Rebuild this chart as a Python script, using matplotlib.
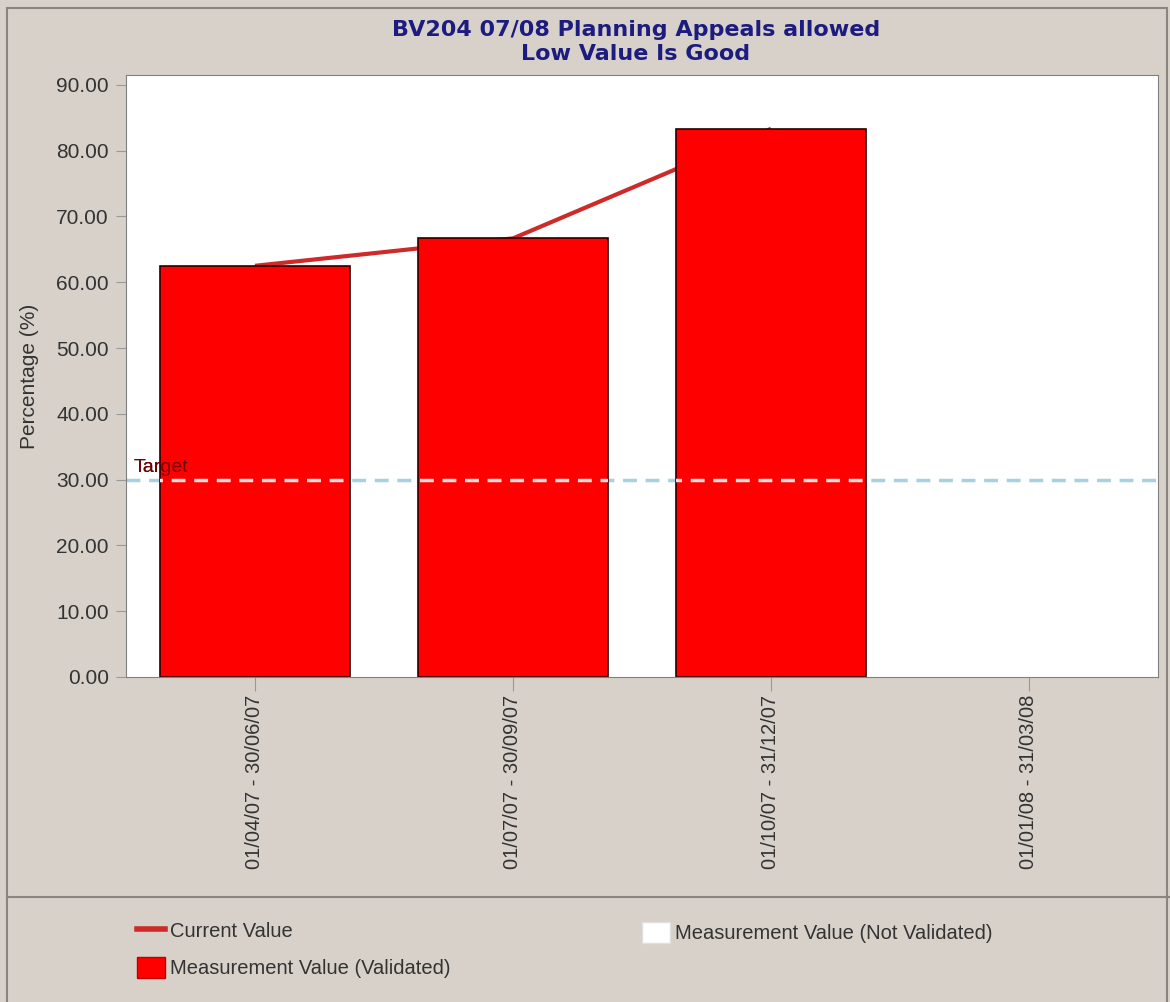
import numpy as np
import matplotlib.pyplot as plt
from matplotlib.patches import Rectangle
from matplotlib.lines import Line2D

# data
periods = ["01/04/07 - 30/06/07", "01/07/07 - 30/09/07",
           "01/10/07 - 31/12/07", "01/01/08 - 31/03/08"]
validated = [62.5, 66.67, 83.33]      # last period has no value yet
current = [62.5, 66.67, 83.33]
target = 30.0
yticks = [0, 10, 20, 30, 40, 50, 60, 70, 80, 90]

plt.rcParams['font.family'] = ['Liberation Sans', 'DejaVu Sans']
txt = "#333333"
bg = "#d7d1c9"
W, H = 1170, 1002

fig = plt.figure(figsize=(W / 100, H / 100), dpi=100, facecolor=bg)
ax = fig.add_axes([126 / W, 1 - 677 / H, 1032 / W, 602 / H])
ax.set_facecolor("white")

x = np.arange(len(periods))
bw = 0.74
ax.plot(x[:len(current)], current, color="#cf2a2a", lw=3,
        solid_capstyle="butt", zorder=1)
ax.axhline(target, color="#a9d0de", lw=2.5, ls=(0, (4, 2.5)), zorder=1.5)
bars = ax.bar(x[:len(validated)], validated, width=bw, color="#ff0000",
              edgecolor="#2a0000", linewidth=1.2, zorder=2)

# over the bars the target line and label show lighter / darker
for b in bars:
    seg, = ax.plot([-0.5, 3.5], [target, target], color="#ffdede", lw=2.5,
                   ls=(0, (4, 2.5)), zorder=3)
    seg.set_clip_path(b)
ax.text(-0.47, target + 0.5, "Target", fontsize=14, color="#111111",
        ha="left", va="bottom", zorder=1.5)
t2 = ax.text(-0.47, target + 0.5, "Target", fontsize=14, color="#7a0000",
             ha="left", va="bottom", zorder=3)
t2.set_clip_path(bars[0])

ax.set_xlim(-0.5, 3.5)
ax.set_ylim(0, 91.5)
ax.set_yticks(yticks)
ax.set_yticklabels([f"{v:.2f}" for v in yticks], fontsize=15, color=txt)
ax.set_xticks(x)
ax.set_xticklabels(periods, rotation=90, fontsize=14.5, color=txt)
ax.tick_params(axis="y", color="#999999", length=7, pad=5.5)
ax.tick_params(axis="x", color="#999999", length=10, pad=3)
for s in ax.spines.values():
    s.set_color("#808080")
ax.set_ylabel("Percentage (%)", fontsize=15, color=txt)
ax.yaxis.set_label_coords(-(126 - 39) / 1032, 0.5)

fig.text(636 / W, 1 - 42 / H,
         "BV204 07/08 Planning Appeals allowed\nLow Value Is Good",
         ha="center", va="center", fontsize=16, fontweight="bold",
         color="#1c1c80", linespacing=1.27, family="DejaVu Sans")

# panel borders
fig.add_artist(Rectangle((7 / W, -0.01), 1160 / W, 1 - 8 / H + 0.01,
                         transform=fig.transFigure, fill=False,
                         edgecolor="#8a8580", lw=1.5))
fig.add_artist(Line2D([7 / W, 1], [1 - 897 / H] * 2,
                      transform=fig.transFigure, color="#8a8580", lw=1.5))

leg_kw = dict(loc="upper left", frameon=False, fontsize=14.5,
              handlelength=1.4, handleheight=1.2, handletextpad=0.25,
              labelspacing=0.8, borderpad=0, borderaxespad=0,
              labelcolor=txt)
fig.legend([Line2D([], [], color="#cf2a2a", lw=4),
            Rectangle((0, 0), 1, 1, facecolor="#ff0000", edgecolor="#c00000")],
           ["Current Value", "Measurement Value (Validated)"],
           bbox_to_anchor=(137 / W, 1 - 920 / H), **leg_kw)
fig.legend([Rectangle((0, 0), 1, 1, facecolor="white", edgecolor="#e0e0e0")],
           ["Measurement Value (Not Validated)"],
           bbox_to_anchor=(642 / W, 1 - 922 / H), **leg_kw)

fig.savefig("out.png", dpi=100, facecolor=bg)
